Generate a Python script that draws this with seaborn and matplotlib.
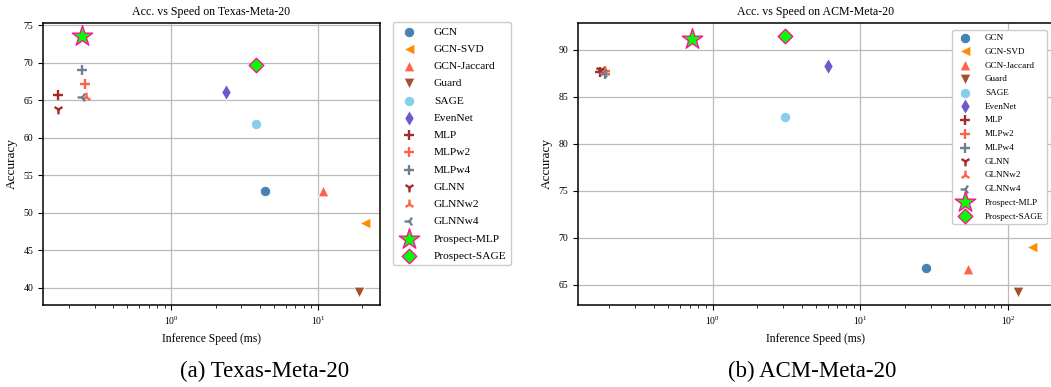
import numpy as np
import pandas as pd
import matplotlib
matplotlib.use("Agg")
import matplotlib.pyplot as plt
import seaborn as sns

# Data
methods = ["GCN", "GCN-SVD", "GCN-Jaccard", "Guard", "SAGE", "EvenNet",
           "MLP", "MLPw2", "MLPw4", "GLNN", "GLNNw2", "GLNNw4",
           "Prospect-MLP", "Prospect-SAGE"]

texas_speed = [4.31, 20.8, 10.8, 18.9, 3.78, 2.37,
               0.169, 0.259, 0.244, 0.169, 0.262, 0.244,
               0.244, 3.80]
texas_acc = [52.9, 48.6, 52.9, 39.4, 61.8, 66.1,
             65.7, 67.2, 69.0, 63.9, 65.4, 65.5,
             73.6, 69.7]

acm_speed = [27.8, 144.0, 53.7, 117.0, 3.10, 6.05,
             0.172, 0.186, 0.186, 0.172, 0.188, 0.184,
             0.73, 3.10]
acm_acc = [66.8, 69.0, 66.7, 64.2, 82.9, 88.3,
           87.6, 87.8, 87.4, 87.9, 87.6, 87.5,
           91.2, 91.5]

# marker styles per method
styles = {
    "GCN": dict(marker="o", color="#4682B4", s=55),
    "GCN-SVD": dict(marker="<", color="#FF8C00", s=60),
    "GCN-Jaccard": dict(marker="^", color="#FF6347", s=60),
    "Guard": dict(marker="v", color="#A0522D", s=60),
    "SAGE": dict(marker="o", color="#87CEEB", s=55),
    "EvenNet": dict(marker="d", color="#6A5ACD", s=65),
    "MLP": dict(marker="+", color="#A52A2A", s=50, linewidth=1.7),
    "MLPw2": dict(marker="+", color="#FF6347", s=50, linewidth=1.7),
    "MLPw4": dict(marker="+", color="#708090", s=50, linewidth=1.7),
    "GLNN": dict(marker="1", color="#A52A2A", s=50, linewidth=1.7),
    "GLNNw2": dict(marker="2", color="#FF6347", s=50, linewidth=1.7),
    "GLNNw4": dict(marker="3", color="#708090", s=50, linewidth=1.7),
    "Prospect-MLP": dict(marker="*", color="#00FF00", s=240, edgecolor="#FF1493", linewidth=1.0),
    "Prospect-SAGE": dict(marker="D", color="#00FF00", s=55, edgecolor="#FF1493", linewidth=1.0),
}

plt.rcParams["font.family"] = ["Liberation Serif", "DejaVu Serif"]
plt.rcParams["mathtext.fontset"] = "stix"

fig = plt.figure(figsize=(10.51, 3.87), dpi=100)
ax1 = fig.add_axes([0.0409, 0.2119, 0.3207, 0.7287])
ax2 = fig.add_axes([0.5500, 0.2119, 0.4520, 0.7287])


def draw(ax, speed, acc, title):
    df = pd.DataFrame({"method": methods, "speed": speed, "acc": acc})
    for _, row in df.iterrows():
        st = dict(styles[row["method"]])
        sns.scatterplot(x=[row["speed"]], y=[row["acc"]], ax=ax,
                        label=row["method"], zorder=3, **st)
    ax.set_xscale("log")
    ax.set_title(title, fontsize=8.6)
    ax.set_xlabel("Inference Speed (ms)", fontsize=8.4)
    ax.set_ylabel("Accuracy", fontsize=9.5)
    ax.tick_params(labelsize=7)
    ax.grid(True, which="major", color="#bbbbbb", linewidth=0.9)
    ax.set_axisbelow(True)
    for sp in ax.spines.values():
        sp.set_linewidth(1.1)


draw(ax1, texas_speed, texas_acc, "Acc. vs Speed on Texas-Meta-20")
draw(ax2, acm_speed, acm_acc, "Acc. vs Speed on ACM-Meta-20")

ax1.legend(loc="upper left", bbox_to_anchor=(393 / 1051, 1 - 22 / 387),
           bbox_transform=fig.transFigure, fontsize=8.2, borderaxespad=0,
           labelspacing=0.64, handletextpad=1.2, framealpha=1)
ax2.legend(loc="upper right", bbox_to_anchor=(1047 / 1051, 1 - 30 / 387),
           bbox_transform=fig.transFigure, fontsize=6.6, borderaxespad=0,
           labelspacing=0.58, handletextpad=1.2, framealpha=1)

fig.text(265 / 1051, 1 - 371 / 387, "(a) Texas-Meta-20", fontsize=16.5,
         ha="center", va="center")
fig.text(812 / 1051, 1 - 371 / 387, "(b) ACM-Meta-20", fontsize=16.5,
         ha="center", va="center")

fig.savefig("out.png", dpi=100)
